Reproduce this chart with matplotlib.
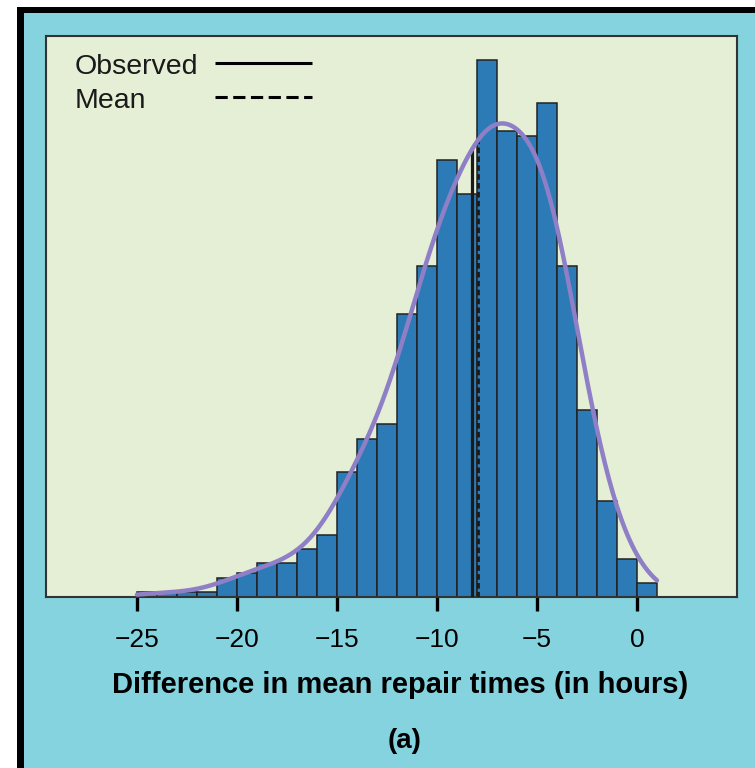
import numpy as np
import matplotlib.pyplot as plt
from matplotlib.patches import Rectangle

plt.rcParams['font.family'] = ['Liberation Sans', 'DejaVu Sans']

# histogram of the resampled differences, 1-hour bins from -25 to 1
bin_edges = list(range(-25, 2))
bin_counts = [1, 1, 1, 1, 4, 5, 7, 7, 10, 13, 26, 33, 36, 59, 69,
              91, 84, 112, 97, 96, 103, 69, 39, 20, 8, 3]
observed_diff = -8.25
mean_diff = -7.95
x_ticks = [-25, -20, -15, -10, -5, 0]
legend_labels = ['Observed', 'Mean']

bg_blue = '#84d3df'
panel_green = '#e4efd6'
bar_blue = '#2c7bb6'
curve_purple = '#8e7fc6'

edges = np.array(bin_edges, dtype=float)
counts = np.array(bin_counts, dtype=float)
centers = (edges[:-1] + edges[1:]) / 2
width = edges[1] - edges[0]


# smoothed density of the binned data, in counts per bin
def kde(x, bw=1.3):
    x = np.atleast_1d(x)[:, None]
    k = np.exp(-0.5 * ((x - centers) / bw) ** 2) / (bw * np.sqrt(2 * np.pi))
    return (k * counts).sum(axis=1) * width


fig = plt.figure(figsize=(7.55, 7.68), dpi=100)
fig.patch.set_facecolor('white')

# blue card with the black edge on the left and top
fig.patches.append(Rectangle((24 / 755, 0), 1, 1 - 13 / 768, transform=fig.transFigure,
                             facecolor=bg_blue, edgecolor='none', zorder=-2))
fig.patches.append(Rectangle((17 / 755, 0), 7 / 755, 1 - 7 / 768, transform=fig.transFigure,
                             facecolor='black', edgecolor='none', zorder=-1))
fig.patches.append(Rectangle((17 / 755, 1 - 13 / 768), 1, 6 / 768, transform=fig.transFigure,
                             facecolor='black', edgecolor='none', zorder=-1))

ax = fig.add_axes([46 / 755, 1 - 597 / 768, 691 / 755, 561 / 768])
ax.set_zorder(5)
ax.set_facecolor(panel_green)

ax.bar(centers, counts, width=width, color=bar_blue, edgecolor='#222222',
       linewidth=1.1, zorder=2)

ax.vlines(observed_diff, 0, kde(observed_diff)[0], color='#1a1a1a', linewidth=2.3, zorder=3)
ax.vlines(mean_diff, 0, kde(mean_diff)[0], color='#1a1a1a', linewidth=2.0,
          linestyles=(0, (2.0, 1.2)), zorder=3)

xs = np.linspace(edges[0], edges[-1], 400)
ax.plot(xs, kde(xs), color=curve_purple, linewidth=3.2, solid_capstyle='round', zorder=4)

ax.set_xlim(-29.55, 5.0)
ax.set_ylim(0, 116.9)
ax.set_xticks(x_ticks)
ax.set_yticks([])
ax.tick_params(axis='x', direction='out', length=10, width=2.4, color='black',
               labelsize=19, pad=12)
for s in ax.spines.values():
    s.set_color('#333333')
    s.set_linewidth(1.5)

# key: labels left-aligned, sample lines in one column to their right
key_styles = ['-', (0, (4, 1.8))]
key_rows = [0.933, 0.8725]
for label, ls, yb in zip(legend_labels, key_styles, key_rows):
    ax.text(0.042, yb, label, transform=ax.transAxes, fontsize=20.5,
            ha='left', va='baseline', color='#1a1a1a')
    ax.plot([0.2446, 0.385], [yb + 0.019] * 2, transform=ax.transAxes,
            color='black', linewidth=2.2, linestyle=ls, solid_capstyle='butt')

ax.set_xlabel('Difference in mean repair times (in hours)', fontsize=21,
              fontweight='bold')
ax.xaxis.set_label_coords(0.512, -0.132)
fig.text(405 / 755, 1 - 741 / 768, '(a)', fontsize=20, fontweight='bold',
         ha='center', va='center')

fig.savefig('out.png', dpi=100, facecolor=fig.get_facecolor())
